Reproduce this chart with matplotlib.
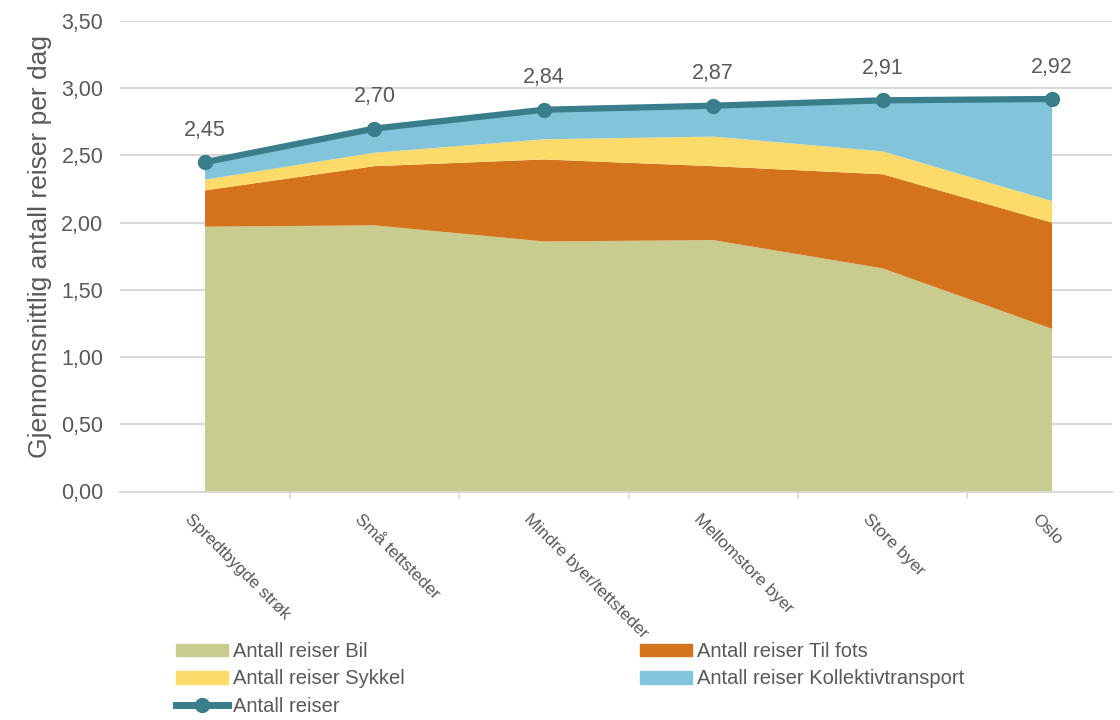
import matplotlib
matplotlib.use("Agg")
import matplotlib.pyplot as plt
import matplotlib.transforms as mtransforms
from matplotlib.patches import Patch
from matplotlib.lines import Line2D

categories = ["Spredtbygde strøk", "Små tettsteder", "Mindre byer/tettsteder",
              "Mellomstore byer", "Store byer", "Oslo"]
bil = [1.97, 1.98, 1.86, 1.87, 1.66, 1.21]
til_fots = [0.27, 0.44, 0.61, 0.55, 0.70, 0.79]
sykkel = [0.08, 0.10, 0.15, 0.22, 0.17, 0.16]
kollektiv = [0.13, 0.18, 0.22, 0.23, 0.38, 0.76]
total = [2.45, 2.70, 2.84, 2.87, 2.91, 2.92]
yticks = [0.0, 0.5, 1.0, 1.5, 2.0, 2.5, 3.0, 3.5]
ytick_labels = ["0,00", "0,50", "1,00", "1,50", "2,00", "2,50", "3,00", "3,50"]
total_labels = ["2,45", "2,70", "2,84", "2,87", "2,91", "2,92"]

series_names = ["Antall reiser Bil", "Antall reiser Til fots",
                "Antall reiser Sykkel", "Antall reiser Kollektivtransport"]
colors = ["#c8cd8f", "#d4731b", "#fcdb6b", "#82c5da"]
line_color = "#3a7e8b"
text_color = "#595959"

plt.rcParams['font.family'] = ['Liberation Sans', 'DejaVu Sans']

fig = plt.figure(figsize=(11.2, 7.2), dpi=100)
ax = fig.add_axes([120/1120, 1-491.5/720, 992/1120, 470.5/720])

x = list(range(len(categories)))
ax.stackplot(x, bil, til_fots, sykkel, kollektiv, colors=colors, linewidth=0, zorder=2)
ax.plot(x, total, color=line_color, lw=4.5, marker='o', markersize=10, zorder=3)

for xi, v, lab in zip(x, total, total_labels):
    ax.annotate(lab, (xi, v), xytext=(0, 23), textcoords='offset points',
                ha='center', va='center', fontsize=15.5, color=text_color)

ax.set_xlim(-0.502, 5.354)
ax.set_ylim(0, 3.5)
ax.set_yticks(yticks)
ax.set_yticklabels(ytick_labels, fontsize=15.5, color=text_color)
ax.tick_params(axis='y', length=0, pad=12)
ax.yaxis.grid(True, color='#d9d9d9', lw=1.5, zorder=0)
ax.set_axisbelow(True)
for s in ['top', 'right', 'left']:
    ax.spines[s].set_visible(False)
ax.spines['bottom'].set_color('#d9d9d9')
ax.spines['bottom'].set_linewidth(1.5)
ax.set_xticks([0.5, 1.5, 2.5, 3.5, 4.5])
ax.set_xticklabels([])
ax.tick_params(axis='x', length=5, color='#d9d9d9', width=1.2)

offset = mtransforms.ScaledTranslation(-0.12, -0.2, fig.dpi_scale_trans)
for xi, lab in zip(x, categories):
    ax.text(xi, 0, lab, transform=ax.get_xaxis_transform() + offset,
            rotation=-45, rotation_mode='anchor', ha='left', va='top',
            fontsize=12.5, color=text_color, clip_on=False)

fig.text(40/1120, 1-246/720, "Gjennomsnittlig antall reiser per dag", rotation=90,
         ha='center', va='center', fontsize=19, color=text_color)

h_bil = Patch(color=colors[0], label=series_names[0])
h_fots = Patch(color=colors[1], label=series_names[1])
h_syk = Patch(color=colors[2], label=series_names[2])
h_kol = Patch(color=colors[3], label=series_names[3])
h_tot = Line2D([], [], color=line_color, lw=5, marker='o', markersize=10, label="Antall reiser")

common = dict(frameon=False, fontsize=14.5, handlelength=2.6, handleheight=0.6,
              handletextpad=0.25, labelspacing=0.42, borderpad=0, borderaxespad=0,
              labelcolor=text_color, loc='upper left')
leg1 = fig.legend(handles=[h_bil, h_syk, h_tot], bbox_to_anchor=(176/1120, 1-642/720), **common)
leg2 = fig.legend(handles=[h_fots, h_kol], bbox_to_anchor=(640/1120, 1-642/720), **common)

fig.savefig("out.png", dpi=100)
